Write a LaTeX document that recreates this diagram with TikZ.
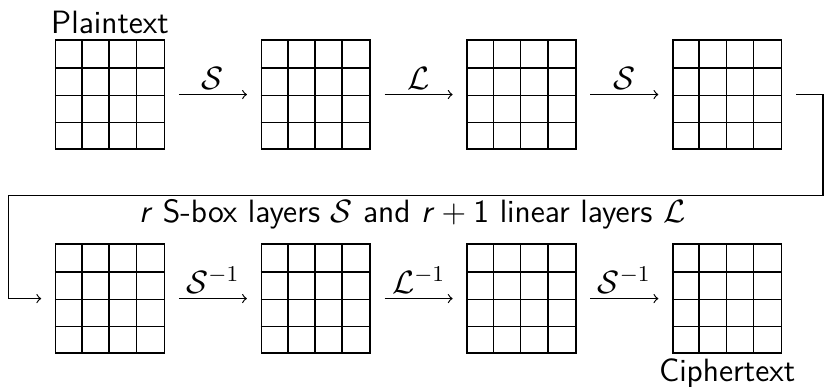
\documentclass[tikz,border=0pt]{standalone}
\usepackage{fix-cm}
\usepackage{amsmath,amssymb}
\usepackage{fontspec}
\usetikzlibrary{positioning}
\tikzset{
  state/.style={rectangle, draw=black, line width=0.7pt, minimum size=1.6cm, inner sep=0pt},
  lbl/.style={font=\fontsize{13.5}{16}\selectfont\sffamily, inner sep=2pt},
  step arrow/.style={->, line width=0.5pt, shorten <=0.2cm, shorten >=0.2cm},
}

\begin{document}
\begin{tikzpicture}
  \useasboundingbox (0,0) rectangle (12.13,-5.676);
  % encryption row
  \node[state] (g1) at (1.618,-1.39) {};
  \node[state, right=1.4cm of g1] (g2) {};
  \node[state, right=1.4cm of g2] (g3) {};
  \node[state, right=1.4cm of g3] (g4) {};
  % decryption row
  \node[state] (g5) at (1.618,-4.39) {};
  \node[state, right=1.4cm of g5] (g6) {};
  \node[state, right=1.4cm of g6] (g7) {};
  \node[state, right=1.4cm of g7] (g8) {};
  % 4x4 cells
  \foreach \g in {g1,g2,g3,g4,g5,g6,g7,g8}
    \foreach \k in {1,2,3} {
      \draw[line width=0.7pt] ([xshift=\k*0.4cm]\g.south west) -- ([xshift=\k*0.4cm]\g.north west);
      \draw[line width=0.7pt] ([yshift=\k*0.4cm]\g.south west) -- ([yshift=\k*0.4cm]\g.south east);
    }
  \node[lbl, above=0pt of g1] (pt) {Plaintext};
  \node[lbl, below=0pt of g8] (ct) {Ciphertext};
  \draw[step arrow] (g1) -- node[lbl, above] {$\mathcal{S}$} (g2);
  \draw[step arrow] (g2) -- node[lbl, above] {$\mathcal{L}$} (g3);
  \draw[step arrow] (g3) -- node[lbl, above] {$\mathcal{S}$} (g4);
  \draw[step arrow] (g5) -- node[lbl, above] {$\mathcal{S}^{-1}$} (g6);
  \draw[step arrow] (g6) -- node[lbl, above] {$\mathcal{L}^{-1}$} (g7);
  \draw[step arrow] (g7) -- node[lbl, above] {$\mathcal{S}^{-1}$} (g8);
  % wrap-around
  \coordinate (wr) at (12.1,-2.88);
  \coordinate (wl) at (0.12,-4.39);
  \draw[step arrow] (g4.east) -| (wr) -| (wl) -- (g5.west);
  \node[lbl] (note) at (6.06,-3.15) {\textit{r} S-box layers $\mathcal{S}$ and \textit{r}${}+{}$1 linear layers $\mathcal{L}$};
\end{tikzpicture}
\end{document}
